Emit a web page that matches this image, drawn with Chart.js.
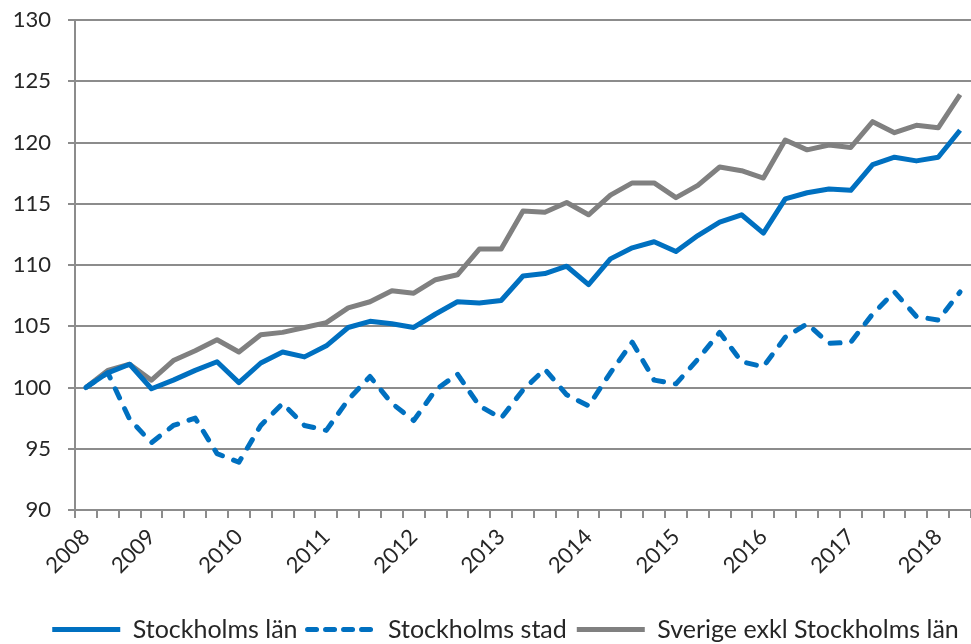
<!DOCTYPE html>
<html>
<head>
<meta charset="utf-8">
<script src="https://cdn.jsdelivr.net/npm/chart.js@4.4.1/dist/chart.umd.min.js"></script>
<style>
  body { margin: 0; background: #fff; }
  #wrap { width: 971px; height: 644px; position: relative; }
</style>
</head>
<body>
<div id="wrap"><canvas id="indexChart"></canvas></div>
<script>
// ===== DATA =====
const quarters = [
  "2008K2", "2008K3", "2008K4",
  "2009K1", "2009K2", "2009K3", "2009K4",
  "2010K1", "2010K2", "2010K3", "2010K4",
  "2011K1", "2011K2", "2011K3", "2011K4",
  "2012K1", "2012K2", "2012K3", "2012K4",
  "2013K1", "2013K2", "2013K3", "2013K4",
  "2014K1", "2014K2", "2014K3", "2014K4",
  "2015K1", "2015K2", "2015K3", "2015K4",
  "2016K1", "2016K2", "2016K3", "2016K4",
  "2017K1", "2017K2", "2017K3", "2017K4",
  "2018K1", "2018K2"
];

const stockholmsLan = [
  100.0, 101.2, 101.9, 99.9, 100.6, 101.4, 102.1, 100.4, 102.0, 102.9,
  102.5, 103.4, 104.9, 105.4, 105.2, 104.9, 106.0, 107.0, 106.9, 107.1,
  109.1, 109.3, 109.9, 108.4, 110.5, 111.4, 111.9, 111.1, 112.4, 113.5,
  114.1, 112.6, 115.4, 115.9, 116.2, 116.1, 118.2, 118.8, 118.5, 118.8,
  121.0
];

const stockholmsStad = [
  100.0, 101.2, 97.4, 95.5, 96.9, 97.5, 94.6, 93.9, 96.9, 98.7,
  96.9, 96.5, 99.0, 100.9, 98.7, 97.3, 99.8, 101.1, 98.5, 97.5,
  99.8, 101.5, 99.4, 98.5, 101.2, 103.7, 100.6, 100.3, 102.3, 104.5,
  102.1, 101.7, 104.1, 105.2, 103.6, 103.7, 106.0, 107.8, 105.8, 105.5,
  107.8
];

const sverigeExkl = [
  100.0, 101.4, 101.9, 100.6, 102.2, 103.0, 103.9, 102.9, 104.3, 104.5,
  104.9, 105.3, 106.5, 107.0, 107.9, 107.7, 108.8, 109.2, 111.3, 111.3,
  114.4, 114.3, 115.1, 114.1, 115.7, 116.7, 116.7, 115.5, 116.5, 118.0,
  117.7, 117.1, 120.2, 119.4, 119.8, 119.6, 121.7, 120.8, 121.4, 121.2,
  123.9
];

const yMin = 90;
const yMax = 130;
const yStep = 5;

// ===== STYLE =====
const blue = "#0070c0";
const grey = "#808080";
const gridGrey = "#8c8c8c";
const textColor = "#262626";
const fontFamily = "Lato, 'Open Sans', sans-serif";

// nudge the legend right and down, like the original
const legendShift = {
  id: "legendShift",
  afterLayout(chart) {
    chart.legend.left += 20;
    chart.legend.right += 20;
    chart.legend.top += 8;
    chart.legend.bottom += 8;
  },
};

const ctx = document.getElementById("indexChart").getContext("2d");

new Chart(ctx, {
  type: "line",
  plugins: [legendShift],
  data: {
    labels: quarters,
    datasets: [
      {
        label: "Stockholms län",
        data: stockholmsLan,
        borderColor: blue,
        backgroundColor: blue,
        borderWidth: 5,
        borderJoinStyle: "round",
        pointRadius: 0,
        tension: 0,
      },
      {
        label: "Stockholms stad",
        data: stockholmsStad,
        borderColor: blue,
        backgroundColor: blue,
        borderWidth: 5,
        borderDash: [10, 12],
        borderCapStyle: "round",
        borderJoinStyle: "round",
        pointRadius: 0,
        tension: 0,
      },
      {
        label: "Sverige exkl Stockholms län",
        data: sverigeExkl,
        borderColor: grey,
        backgroundColor: grey,
        borderWidth: 5,
        borderJoinStyle: "round",
        pointRadius: 0,
        tension: 0,
      },
    ],
  },
  options: {
    responsive: true,
    maintainAspectRatio: false,
    animation: false,
    layout: { padding: { top: 20, left: 0, right: 0, bottom: 0 } },
    plugins: {
      tooltip: { enabled: false },
      legend: {
        position: "bottom",
        labels: {
          usePointStyle: true,
          pointStyleWidth: 68,
          padding: 10,
          color: textColor,
          font: { family: fontFamily, size: 25 },
          generateLabels: (chart) =>
            chart.data.datasets.map((ds, i) => ({
              text: ds.label,
              fillStyle: ds.borderColor,
              strokeStyle: ds.borderColor,
              fontColor: textColor,
              lineWidth: 5,
              lineDash: ds.borderDash ? [9, 9] : [],
              lineCap: ds.borderDash ? "round" : "butt",
              pointStyle: "line",
              hidden: false,
              datasetIndex: i,
            })),
        },
      },
    },
    scales: {
      x: {
        offset: true,
        grid: {
          offset: true,
          drawOnChartArea: false,
          drawTicks: true,
          tickLength: 8,
          color: gridGrey,
          lineWidth: 2,
        },
        border: { color: gridGrey, width: 2 },
        ticks: {
          autoSkip: false,
          maxRotation: 45,
          minRotation: 45,
          padding: 6,
          color: textColor,
          font: { family: fontFamily, size: 22 },
          callback: function (value, index) {
            const q = quarters[index];
            if (index === 0 || q.endsWith("K1")) return q.slice(0, 4);
            return "";
          },
        },
        afterFit: (scale) => {
          scale.height = 89;
          scale.paddingRight = 0;
          scale.paddingLeft = 0;
        },
      },
      y: {
        min: yMin,
        max: yMax,
        grid: {
          color: gridGrey,
          lineWidth: 2,
          drawTicks: true,
          tickLength: 7,
        },
        border: { color: gridGrey, width: 2 },
        ticks: {
          stepSize: yStep,
          padding: 17,
          color: textColor,
          font: { family: fontFamily, size: 22 },
        },
        afterFit: (scale) => {
          scale.width = 75;
          scale.paddingTop = 0;
          scale.paddingBottom = 0;
        },
      },
    },
  },
});
</script>
</body>
</html>
